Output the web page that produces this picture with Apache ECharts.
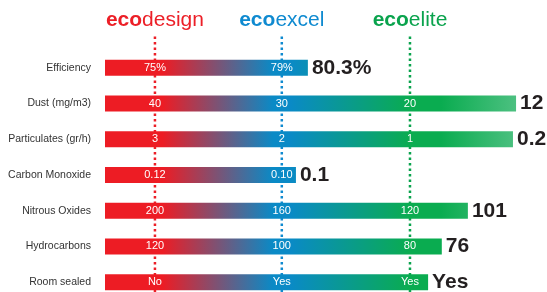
<!DOCTYPE html>
<html lang="en">
<head>
    <meta charset="UTF-8">
    <title>eco comparison</title>
    <script src="https://cdn.jsdelivr.net/npm/echarts@6/dist/echarts.min.js"></script>
    <style>
        html, body { margin: 0; padding: 0; background: #ffffff; }
        #main { width: 547px; height: 292px; }
    </style>
</head>
<body>
    <div id="main"></div>
    <script>
        // rows of the comparison
        var categories = ["Efficiency", "Dust (mg/m3)", "Particulates (gr/h)", "Carbon Monoxide", "Nitrous Oxides", "Hydrocarbons", "Room sealed"]
        // bar length (score, 0-100 of the axis)
        var barScore = [45.9, 93.0, 92.3, 43.2, 82.1, 76.2, 73.1]
        // big figure at the end of each bar
        var endText = ["80.3%", "12", "0.2", "0.1", "101", "76", "Yes"]

        // products: name suffix, colour, position on the score axis
        var products = ["design", "excel", "elite"]
        var productPos = [11.3, 40.0, 69.0]
        var productColor = ["#ec1f27", "#0f8ad0", "#0aa34d"]
        // values printed inside the bars at each product line
        var designText = ["75%", "40", "3", "0.12", "200", "120", "No"]
        var excelText = ["79%", "30", "2", "0.10", "160", "100", "Yes"]
        var eliteText = ["", "20", "1", "", "120", "80", "Yes"]
        var innerText = [designText, excelText, eliteText]

        var font = "'Liberation Sans', Arial, sans-serif"

        var chart = echarts.init(document.getElementById('main'));

        var barGradient = {
            type: 'linear', x: 105, y: 0, x2: 547, y2: 0, global: true,
            colorStops: [
                { offset: 0, color: '#ed1c24' },
                { offset: 0.13, color: '#ed1c24' },
                { offset: 0.38, color: '#0a8ac6' },
                { offset: 0.42, color: '#0a8ac6' },
                { offset: 0.69, color: '#0aac50' },
                { offset: 0.76, color: '#0aac50' },
                { offset: 0.93, color: '#4cc080' },
                { offset: 1, color: '#4cc080' }
            ]
        }

        var series = [{
            name: 'score',
            type: 'bar',
            xAxisIndex: 0,
            yAxisIndex: 0,
            data: barScore,
            barWidth: 16,
            z: 3,
            itemStyle: { color: barGradient },
            label: {
                show: true,
                position: 'right',
                distance: 4,
                fontFamily: font,
                fontSize: 21,
                fontWeight: 'bold',
                color: '#231f20',
                formatter: function (p) { return endText[p.dataIndex] }
            },
            silent: true,
            animation: false
        }];

        products.forEach(function (name, i) {
            // dotted line behind the bars
            series.push({
                type: 'line',
                xAxisIndex: 1,
                yAxisIndex: 1,
                data: [[productPos[i], 0], [productPos[i], 1]],
                symbol: 'none',
                z: 1,
                lineStyle: { color: productColor[i], width: 2.5, type: [2.5, 3] },
                silent: true,
                animation: false
            });
            // header text on top of the line
            series.push({
                type: 'scatter',
                xAxisIndex: 1,
                yAxisIndex: 1,
                data: [[productPos[i], 1]],
                symbolSize: 0,
                itemStyle: { opacity: 1, color: productColor[i] },
                label: {
                    show: true,
                    position: 'top',
                    distance: 4,
                    formatter: '{b|eco}{r|' + name + '}',
                    rich: {
                        b: { fontFamily: font, fontSize: 21, fontWeight: 'bold', color: productColor[i] },
                        r: { fontFamily: font, fontSize: 21, color: productColor[i] }
                    }
                },
                silent: true,
                animation: false
            });
            // values inside the bars
            series.push({
                type: 'scatter',
                xAxisIndex: 0,
                yAxisIndex: 0,
                data: categories.map(function (c, j) { return [productPos[i], j] }),
                symbolSize: 0,
                z: 4,
                itemStyle: { opacity: 1 },
                label: {
                    show: true,
                    position: 'inside',
                    fontFamily: font,
                    fontSize: 11,
                    color: '#ffffff',
                    textBorderWidth: 0,
                    formatter: function (p) { return innerText[i][p.dataIndex] }
                },
                silent: true,
                animation: false
            });
        });

        chart.setOption({
            animation: false,
            grid: [
                { left: 105, right: 0, top: 50, height: 250, outerBoundsMode: 'none', containLabel: false },
                { left: 105, right: 0, top: 35, bottom: 0, outerBoundsMode: 'none', containLabel: false }
            ],
            xAxis: [
                { gridIndex: 0, type: 'value', min: 0, max: 100, show: false },
                { gridIndex: 1, type: 'value', min: 0, max: 100, show: false }
            ],
            yAxis: [
                {
                    gridIndex: 0,
                    type: 'category',
                    data: categories,
                    inverse: true,
                    axisLine: { show: false },
                    axisTick: { show: false },
                    axisLabel: {
                        margin: 14,
                        fontFamily: font,
                        fontSize: 10.5,
                        color: '#333333'
                    }
                },
                { gridIndex: 1, type: 'value', min: 0, max: 1, show: false }
            ],
            series: series
        });
    </script>
</body>
</html>
